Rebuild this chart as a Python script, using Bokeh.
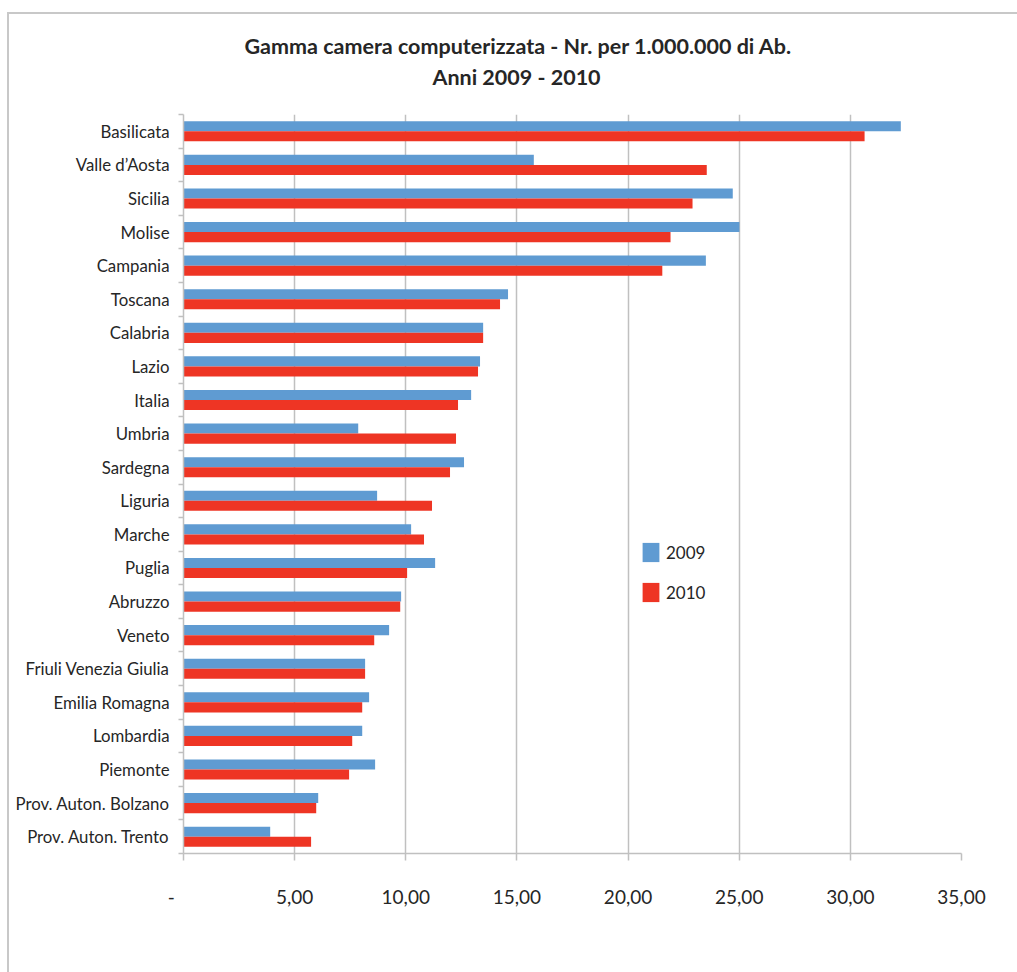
from bokeh.plotting import figure
from bokeh.models import (FactorRange, Range1d, LinearAxis, CategoricalAxis, FixedTicker,
                          Title, Legend, LegendItem, ColumnDataSource)
from bokeh.transform import dodge
from bokeh.embed import file_html
from bokeh.resources import INLINE

# ---------------- data ----------------
regions = ["Basilicata", "Valle d\u2019Aosta", "Sicilia", "Molise", "Campania", "Toscana",
           "Calabria", "Lazio", "Italia", "Umbria", "Sardegna", "Liguria", "Marche",
           "Puglia", "Abruzzo", "Veneto", "Friuli Venezia Giulia", "Emilia Romagna",
           "Lombardia", "Piemonte", "Prov. Auton. Bolzano", "Prov. Auton. Trento"]
v2009 = [32.27, 15.76, 24.71, 25.01, 23.50, 14.60, 13.48, 13.34, 12.94, 7.86, 12.62,
         8.71, 10.24, 11.32, 9.79, 9.25, 8.17, 8.35, 8.04, 8.62, 6.06, 3.90]
v2010 = [30.64, 23.54, 22.90, 21.91, 21.54, 14.24, 13.48, 13.25, 12.35, 12.26, 11.99,
         11.18, 10.82, 10.06, 9.75, 8.58, 8.17, 8.04, 7.59, 7.45, 5.97, 5.74]
series = ["2009", "2010"]
x_ticks = [0, 5, 10, 15, 20, 25, 30, 35]
x_tick_labels = ["-", "5,00", "10,00", "15,00", "20,00", "25,00", "30,00", "35,00"]
title_lines = ["Gamma camera computerizzata - Nr. per 1.000.000 di Ab.", "Anni 2009 - 2010"]

# ---------------- style ----------------
FONT = "Lato"
C2009 = "#5F9BD2"
C2010 = "#EE3524"
GRID = "#c0c0c0"
TXT = "#262626"

p = figure(width=1017, height=972,
           y_range=FactorRange(factors=list(reversed(regions))),
           x_range=Range1d(0, 35),
           output_backend="svg", toolbar_location=None,
           y_axis_location=None,
           min_border_left=183, min_border_right=56,
           min_border_top=114, min_border_bottom=119)
p.outline_line_color = None
p.background_fill_color = "white"
p.border_fill_alpha = 0
p.styles = {
    "background": "linear-gradient(#c8c8c8,#c8c8c8) 7px 12px / 100% 2px no-repeat, "
                  "linear-gradient(#c8c8c8,#c8c8c8) 7px 12px / 2px 100% no-repeat, white"
}

src = ColumnDataSource(dict(region=regions, v2009=v2009, v2010=v2010))
r1 = p.hbar(y=dodge("region", 0.15, range=p.y_range), left=0, right="v2009", height=0.3,
            source=src, fill_color=C2009, line_color=None)
r2 = p.hbar(y=dodge("region", -0.15, range=p.y_range), left=0, right="v2010", height=0.3,
            source=src, fill_color=C2010, line_color=None)

# x axis
xa = p.xaxis[0]
xa.ticker = FixedTicker(ticks=x_ticks)
labels = dict(zip(x_ticks, x_tick_labels))
labels[0] = x_tick_labels[0] + "\u00a0" * 5
xa.major_label_overrides = labels
xa.axis_line_color = GRID
xa.axis_line_width = 1.5
xa.major_tick_line_color = GRID
xa.major_tick_line_width = 1.5
xa.major_tick_out = 7
xa.major_tick_in = 0
xa.minor_tick_line_color = None
xa.major_label_standoff = 24
xa.major_label_text_font = FONT
xa.major_label_text_font_size = "19px"
xa.major_label_text_color = TXT

p.xgrid.ticker = FixedTicker(ticks=x_ticks)
p.xgrid.grid_line_color = GRID
p.xgrid.grid_line_width = 1.5
for g in p.ygrid:
    g.visible = False

# boundary-tick axis on the left (ticks between categories)
nb = len(regions) + 1
bax = LinearAxis(ticker=FixedTicker(ticks=list(range(nb))),
                 major_label_overrides={i: "" for i in range(nb)},
                 major_tick_out=5, major_tick_in=0, minor_tick_line_color=None,
                 axis_line_color=GRID, axis_line_width=1.5,
                 major_tick_line_color=GRID, major_tick_line_width=1.5,
                 major_label_standoff=0, major_label_text_font_size="1px")
p.add_layout(bax, "left")
cax = CategoricalAxis(major_tick_line_color=None, axis_line_color=None,
                      major_tick_out=0, major_tick_in=0, major_label_standoff=9,
                      major_label_text_font=FONT, major_label_text_font_size="16.8px",
                      major_label_text_color=TXT)
p.add_layout(cax, "left")

# titles: spacer nearest the frame, then line 2, then line 1
p.add_layout(Title(text="\u00a0", standoff=11, text_font=FONT, text_font_size="10px",
                   text_color="white"), "above")
p.add_layout(Title(text=title_lines[1], align="left", offset=249, standoff=0,
                   text_font=FONT, text_font_size="21.5px", text_font_style="bold",
                   text_color=TXT), "above")
p.add_layout(Title(text=title_lines[0], align="left", offset=61, standoff=6,
                   text_font=FONT, text_font_size="21.5px", text_font_style="bold",
                   text_color=TXT), "above")

legend = Legend(items=[LegendItem(label=series[0], renderers=[r1]),
                       LegendItem(label=series[1], renderers=[r2])],
                location=(457, 249), glyph_width=21, glyph_height=24, label_height=24,
                spacing=16, padding=0, margin=0, label_standoff=5,
                label_text_font=FONT, label_text_font_size="17px", label_text_color=TXT,
                border_line_color=None, background_fill_alpha=0)
p.add_layout(legend, "center")

open("out.html", "w").write(file_html(p, INLINE))
